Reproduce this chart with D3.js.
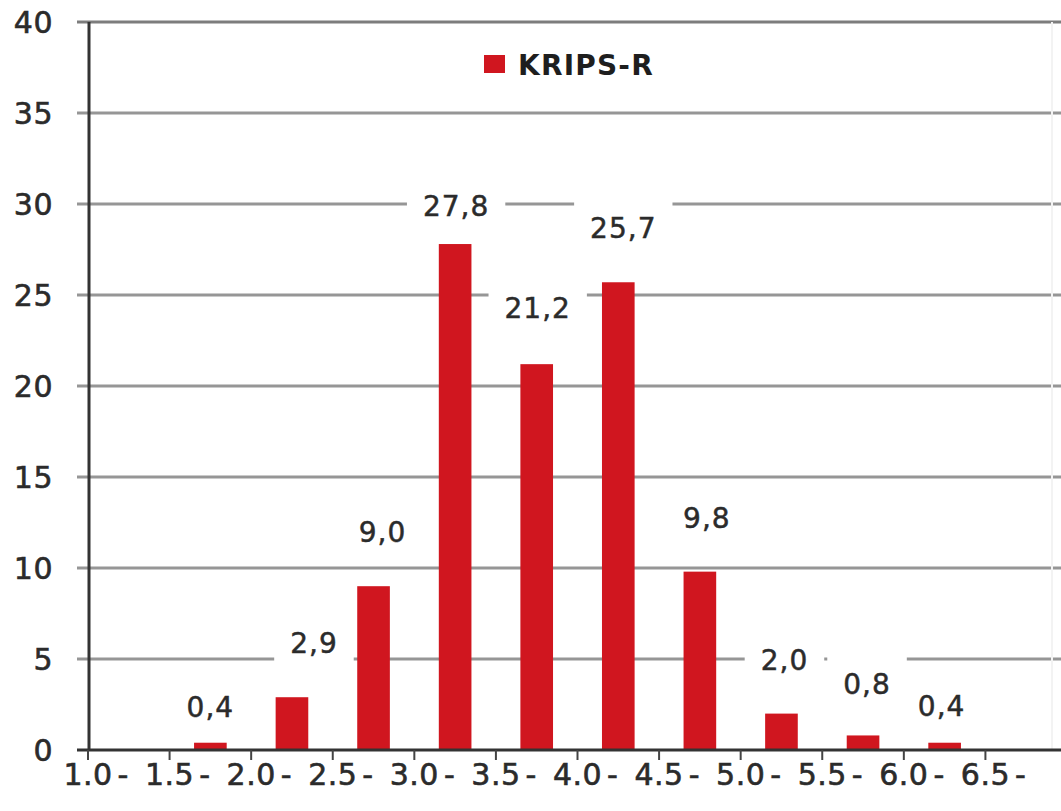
<!DOCTYPE html>
<html>
<head>
<meta charset="utf-8">
<script src="https://cdn.jsdelivr.net/npm/d3@7"></script>
<style>
  html, body { margin: 0; padding: 0; background: #ffffff; }
  svg { display: block; font-family: "DejaVu Sans", Verdana, sans-serif; }
</style>
</head>
<body>
<svg id="chart" width="1061" height="811"></svg>
<script>
// Score bins (lower bound of each 0.5-wide interval)
const categories = ["1.0", "1.5", "2.0", "2.5", "3.0", "3.5", "4.0", "4.5", "5.0", "5.5", "6.0", "6.5"];
// Share of respondents per bin, in percent (empty bins have no bar)
const percentages = [null, 0.4, 2.9, 9.0, 27.8, 21.2, 25.7, 9.8, 2.0, 0.8, 0.4, null];
const yTicks = [0, 5, 10, 15, 20, 25, 30, 35, 40];
const seriesName = "KRIPS-R";

const svg = d3.select("#chart");
const W = 1061, H = 811;
const plot = { left: 88, right: 1067, top: 22, bottom: 750 };
const ink = "#2b2b2b";

const comma = d3.formatLocale({ decimal: ",", thousands: ".", grouping: [3], currency: ["", ""] }).format(".1f");

// One slot per bin; bars sit in the middle of each slot
const xSlot = d3.scaleBand().domain(categories).range([plot.left, plot.right]).padding(0);
const xBar = d3.scaleBand().domain(categories).range([plot.left, plot.right]).paddingInner(0.6).paddingOuter(0.3);
const y = d3.scaleLinear().domain([0, 40]).range([plot.bottom, plot.top]);

// Horizontal gridlines (extend a little left of the axis as tick marks)
svg.append("g").selectAll("line").data(yTicks.filter(t => t > 0)).join("line")
  .attr("x1", plot.left - 11).attr("x2", W)
  .attr("y1", d => y(d)).attr("y2", d => y(d))
  .attr("stroke", d => d === 40 ? "#7d7d7d" : "#969696")
  .attr("stroke-width", 3.2);

// Faint right border of the plot area
svg.append("line")
  .attr("x1", 1052).attr("x2", 1052).attr("y1", y(40)).attr("y2", y(0))
  .attr("stroke", "#f3f3f3").attr("stroke-width", 2);

// Y tick labels
svg.append("g").selectAll("text").data(yTicks).join("text")
  .attr("x", 53).attr("y", d => y(d)).attr("dy", "0.36em")
  .attr("text-anchor", "end")
  .attr("font-size", 30).attr("letter-spacing", 0.5)
  .attr("fill", ink).attr("stroke", ink).attr("stroke-width", 0.6)
  .text(d => d);

// Bars
const barData = categories.map((c, i) => ({ c, v: percentages[i] })).filter(d => d.v != null);
svg.append("g").selectAll("rect").data(barData).join("rect")
  .attr("x", d => xBar(d.c))
  .attr("width", xBar.bandwidth())
  .attr("y", d => y(d.v))
  .attr("height", d => y(0) - y(d.v))
  .attr("fill", "#d0161f");

// Axes lines
svg.append("line")
  .attr("x1", plot.left + 1).attr("x2", plot.left + 1).attr("y1", y(40)).attr("y2", y(0))
  .attr("stroke", "#333").attr("stroke-width", 3);
svg.append("line")
  .attr("x1", plot.left - 11).attr("x2", W).attr("y1", y(0)).attr("y2", y(0))
  .attr("stroke", "#333").attr("stroke-width", 3);

// X ticks at slot boundaries
svg.append("g").selectAll("line").data(categories).join("line")
  .attr("x1", d => xSlot(d)).attr("x2", d => xSlot(d))
  .attr("y1", y(0)).attr("y2", y(0) + 10)
  .attr("stroke", "#444").attr("stroke-width", 2);

// X labels: bound centred on the slot's left edge, followed by a dash
const xl = svg.append("g").selectAll("g").data(categories).join("g")
  .attr("transform", d => `translate(${xSlot(d)},774)`);
xl.append("text")
  .attr("text-anchor", "middle").attr("dy", "0.36em")
  .attr("font-size", 30).attr("letter-spacing", 0.5)
  .attr("fill", ink).attr("stroke", ink).attr("stroke-width", 0.6)
  .text(d => d);
xl.append("text")
  .attr("x", 35)
  .attr("text-anchor", "middle").attr("dy", "0.36em")
  .attr("font-size", 30)
  .attr("fill", ink).attr("stroke", ink).attr("stroke-width", 0.6)
  .text("-");

// Value labels with white backing boxes; a few are nudged to avoid crowding
const labelNudge = {
  "1.5": [0, 18], "2.0": [22, 0], "2.5": [9, 0], "3.0": [1, 16], "3.5": [1, -2],
  "4.0": [5, 0], "4.5": [7, 0], "5.0": [3, 0], "5.5": [4, 2], "6.0": [-3, 17]
};
const labels = svg.append("g").selectAll("g").data(barData).join("g")
  .attr("transform", d => {
    const n = labelNudge[d.c] || [0, 0];
    return `translate(${xSlot(d.c) + xSlot.bandwidth() / 2 + n[0]},${y(d.v) - 54 + n[1]})`;
  });
labels.append("rect").attr("fill", "#ffffff");
const lt = labels.append("text")
  .attr("text-anchor", "middle").attr("dy", "0.36em")
  .attr("font-size", 28).attr("letter-spacing", 1)
  .attr("fill", ink).attr("stroke", ink).attr("stroke-width", 0.5)
  .text(d => comma(d.v));
lt.each(function () {
  const w = this.getComputedTextLength();
  d3.select(this.parentNode).select("rect")
    .attr("x", -w / 2 - 16).attr("width", w + 32)
    .attr("y", -27).attr("height", 54);
});

// Legend
const lg = svg.append("g").attr("transform", "translate(484,55)");
lg.append("rect").attr("width", 21).attr("height", 18).attr("fill", "#d0161f");
lg.append("text")
  .attr("x", 34).attr("y", 20)
  .attr("font-size", 28).attr("font-weight", "bold").attr("letter-spacing", 1.2)
  .attr("fill", "#1e1e1e")
  .text(seriesName);
</script>
</body>
</html>
